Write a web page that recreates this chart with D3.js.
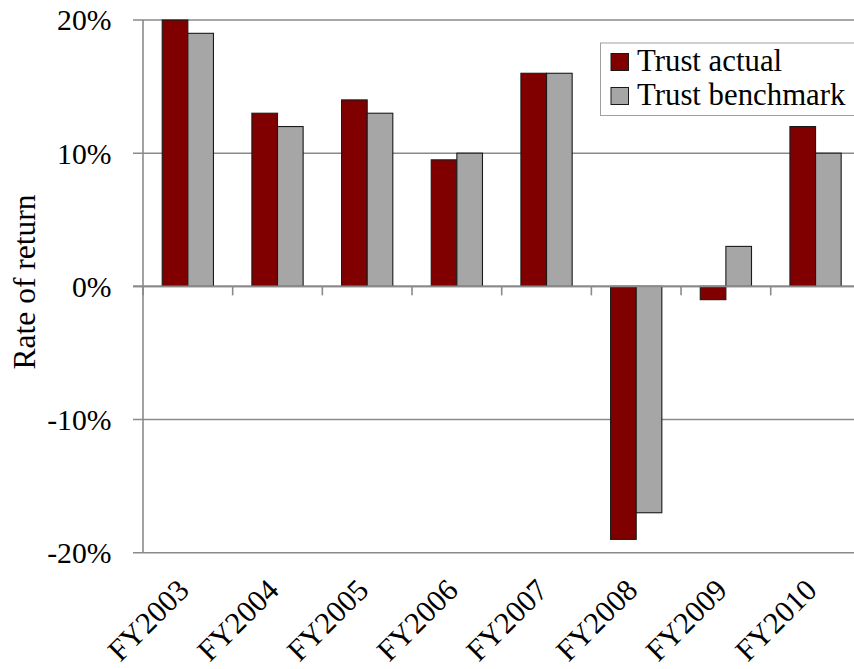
<!DOCTYPE html>
<html>
<head>
<meta charset="utf-8">
<script src="https://cdn.jsdelivr.net/npm/d3@7"></script>
<style>
  html, body { margin: 0; padding: 0; background: #fff; }
  svg text { font-family: "Liberation Serif", "Times New Roman", serif; fill: #000; }
</style>
</head>
<body>
<svg id="chart" width="854" height="669"></svg>
<script>
const categories = ["FY2003", "FY2004", "FY2005", "FY2006", "FY2007", "FY2008", "FY2009", "FY2010"];
const seriesNames = ["Trust actual", "Trust benchmark"];
const trustActual = [0.20, 0.13, 0.14, 0.095, 0.16, -0.19, -0.01, 0.12];
const trustBenchmark = [0.19, 0.12, 0.13, 0.10, 0.16, -0.17, 0.03, 0.10];
const yTicks = [-0.2, -0.1, 0, 0.1, 0.2];
const seriesColors = ["#800000", "#a6a6a6"];

const svg = d3.select("#chart");
const W = 854, H = 669;
const plotLeft = 143, plotRight = 860.4, plotTop = 20, plotBottom = 552.7;

const x = d3.scaleBand().domain(categories).range([plotLeft, plotRight]).paddingInner(0).paddingOuter(0);
const bw = x.bandwidth();
const xs = d3.scaleBand().domain(seriesNames).range([bw * 0.75 / 3.5, bw * 2.75 / 3.5]);
const y = d3.scaleLinear().domain([-0.2, 0.2]).range([plotBottom, plotTop]);

const gridColor = "#8a8a8a";
const pct = d => d3.format(".0%")(d).replace("\u2212", "-");

// gridlines
svg.append("g").selectAll("line").data(yTicks).join("line")
  .attr("x1", plotLeft - 10).attr("x2", W)
  .attr("y1", d => y(d)).attr("y2", d => y(d))
  .attr("stroke", gridColor).attr("stroke-width", 1.6);

// y axis line
svg.append("line")
  .attr("x1", plotLeft).attr("x2", plotLeft)
  .attr("y1", y(0.2)).attr("y2", y(-0.2))
  .attr("stroke", gridColor).attr("stroke-width", 1.6);

// y tick labels
svg.append("g").selectAll("text").data(yTicks).join("text")
  .attr("x", 111.5).attr("y", d => y(d)).attr("dy", "0.35em")
  .attr("text-anchor", "end").attr("font-size", 29.7)
  .text(pct);

// bars
const data = categories.map((c, i) => ({ cat: c, values: [trustActual[i], trustBenchmark[i]] }));
const groups = svg.append("g").selectAll("g").data(data).join("g")
  .attr("transform", d => `translate(${x(d.cat)},0)`);
groups.selectAll("rect").data(d => d.values.map((v, j) => ({ key: seriesNames[j], v, j })))
  .join("rect")
  .attr("x", d => xs(d.key)).attr("width", xs.bandwidth())
  .attr("y", d => y(Math.max(0, d.v))).attr("height", d => Math.abs(y(d.v) - y(0)))
  .attr("fill", d => seriesColors[d.j])
  .attr("stroke", "#1a1a1a").attr("stroke-width", 1.1);

// x axis at zero
svg.append("line")
  .attr("x1", plotLeft - 10).attr("x2", W)
  .attr("y1", y(0)).attr("y2", y(0))
  .attr("stroke", gridColor).attr("stroke-width", 1.6);
// x tick marks at band boundaries
const boundaries = categories.map(c => x(c)).concat([x(categories[categories.length - 1]) + bw]);
svg.append("g").selectAll("line").data(boundaries).join("line")
  .attr("x1", d => d).attr("x2", d => d)
  .attr("y1", y(0)).attr("y2", y(0) + 9)
  .attr("stroke", gridColor).attr("stroke-width", 1.6);

// x labels
svg.append("g").selectAll("text").data(categories).join("text")
  .attr("transform", d => `translate(${x(d) + bw / 2 + 3},${592}) rotate(-45)`)
  .attr("text-anchor", "end")
  .attr("font-size", 30.5)
  .text(d => d);

// y axis title
svg.append("text")
  .attr("transform", `translate(35,${282}) rotate(-90)`)
  .attr("text-anchor", "middle").attr("font-size", 31.5)
  .text("Rate of return");

// legend
const lg = svg.append("g");
lg.append("rect").attr("x", 600.5).attr("y", 43).attr("width", 270).attr("height", 72.5)
  .attr("fill", "#fff").attr("stroke", "#a0a0a0").attr("stroke-width", 1);
const li = lg.selectAll("g").data(seriesNames).join("g")
  .attr("transform", (d, i) => `translate(611,${53.5 + i * 34})`);
li.append("rect").attr("width", 17.5).attr("height", 17)
  .attr("fill", (d, i) => seriesColors[i]).attr("stroke", "#1a1a1a").attr("stroke-width", 1);
li.append("text").attr("x", 26).attr("y", 17).attr("font-size", 30.8).text(d => d);
</script>
</body>
</html>
